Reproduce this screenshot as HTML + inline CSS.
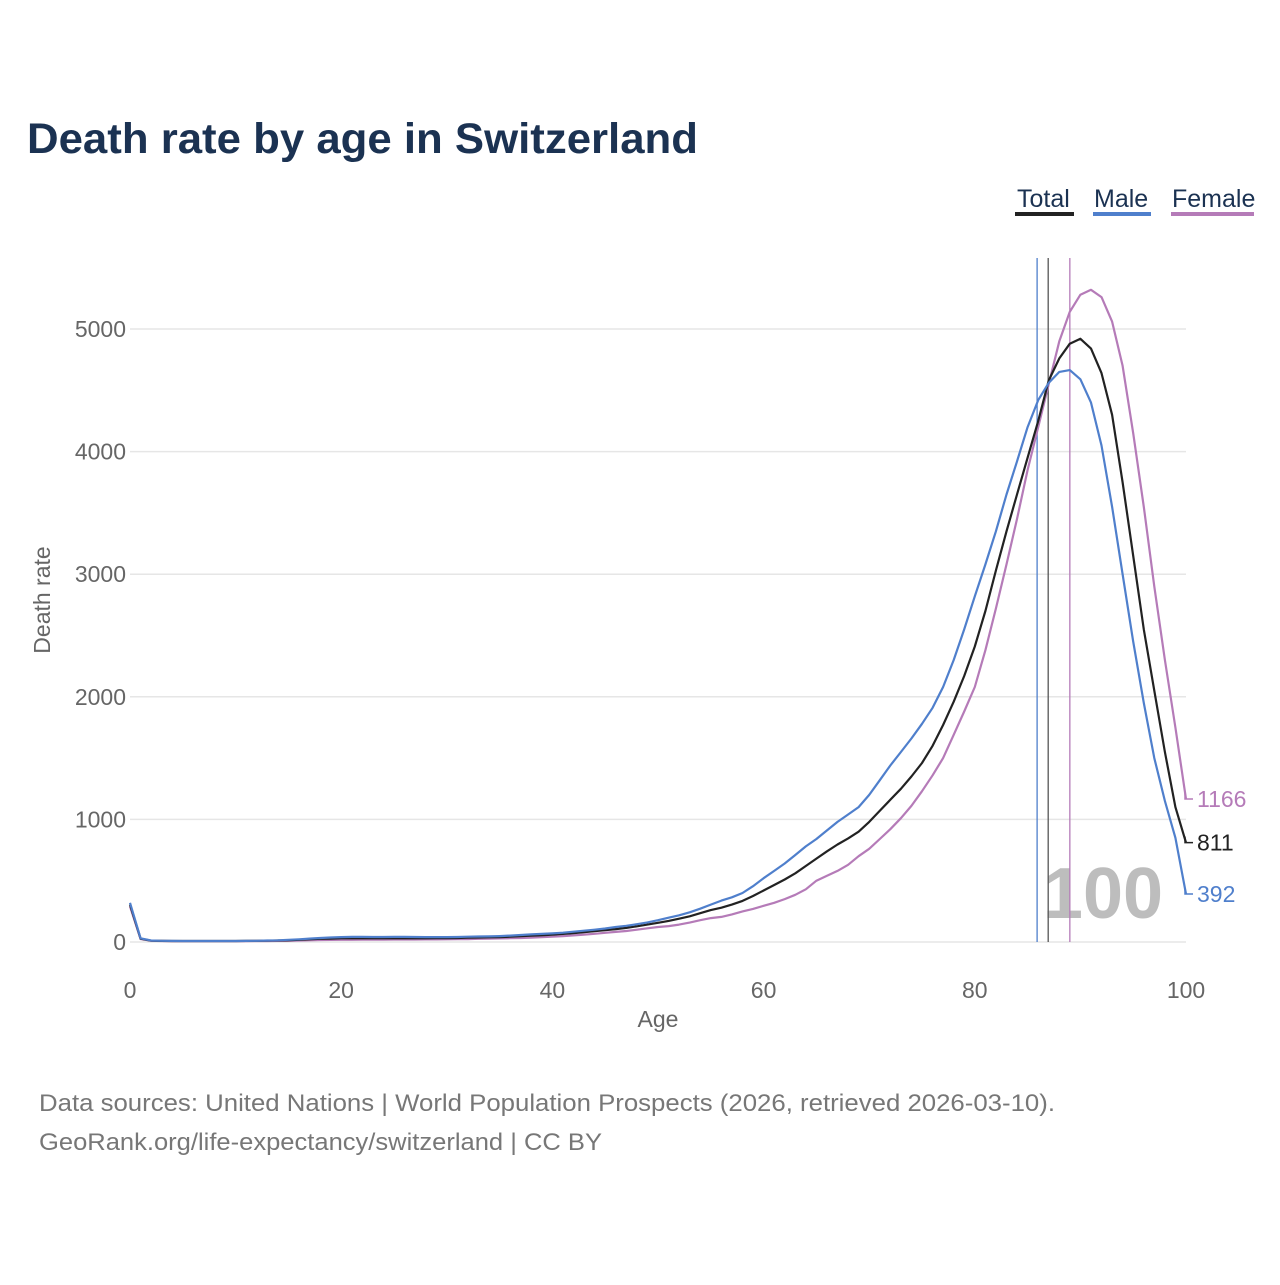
<!DOCTYPE html>
<html><head><meta charset="utf-8"><style>
body{margin:0;background:#fff;font-family:"Liberation Sans",sans-serif;}
</style></head><body>
<svg width="1280" height="1280" xmlns="http://www.w3.org/2000/svg" style="font-family:'Liberation Sans',sans-serif">
<text x="27" y="153" font-size="43" font-weight="bold" fill="#1b3252" textLength="671" lengthAdjust="spacingAndGlyphs">Death rate by age in Switzerland</text>
<g>
<g><text x="1017" y="207" font-size="25" fill="#1b3252">Total</text><rect x="1015" y="212" width="59" height="4" fill="#222"/></g>
<g><text x="1094" y="207" font-size="25" fill="#1b3252">Male</text><rect x="1093" y="212" width="58" height="4" fill="#4f7fcc"/></g>
<g><text x="1172" y="207" font-size="25" fill="#1b3252">Female</text><rect x="1171" y="212" width="83" height="4" fill="#b57bb8"/></g>
</g>
<g id="grid"></g>
<g id="yticks"></g>
<g id="xticks"></g>
<text x="1103" y="918" font-size="72" font-weight="bold" fill="#bdbdbd" text-anchor="middle">100</text>
<g id="vlines"></g>
<g id="series"></g>
<text x="658" y="1027" font-size="23" fill="#666" text-anchor="middle">Age</text>
<text transform="translate(50,600) rotate(-90)" font-size="23" fill="#666" text-anchor="middle">Death rate</text>
<text x="39" y="1111" font-size="24" fill="#777" textLength="1016" lengthAdjust="spacingAndGlyphs">Data sources: United Nations | World Population Prospects (2026, retrieved 2026-03-10).</text>
<text x="39" y="1150" font-size="24" fill="#777" textLength="563" lengthAdjust="spacingAndGlyphs">GeoRank.org/life-expectancy/switzerland | CC BY</text>
</svg>
<script>
const yTicks=[0,1000,2000,3000,4000,5000];
const xTicks=[0,20,40,60,80,100];
const male=[320,30,12,10,9,8,8,8,8,8,8,9,10,12,14,18,22,28,33,37,40,42,42,41,41,42,42,41,40,40,40,41,43,45,46,48,52,57,62,66,70,76,84,92,100,110,122,132,145,160,178,198,218,242,272,305,338,365,400,455,520,580,640,710,780,840,910,980,1040,1100,1200,1320,1440,1550,1660,1780,1910,2080,2300,2550,2820,3080,3350,3650,3920,4200,4420,4560,4650,4665,4590,4400,4050,3550,3000,2450,1950,1500,1150,850,392];
const total=[305,27,11,9,8,8,8,8,8,8,8,9,10,11,12,14,18,22,26,28,30,30,30,30,30,30,30,30,30,31,32,33,35,37,38,40,43,47,51,55,60,66,72,80,88,96,105,115,128,142,157,172,190,210,235,260,280,305,335,375,420,465,510,560,620,680,740,795,845,900,980,1070,1160,1250,1350,1460,1600,1770,1960,2170,2410,2700,3030,3350,3650,3950,4250,4580,4760,4880,4920,4840,4640,4300,3750,3150,2550,2050,1550,1100,811];
const female=[290,24,10,8,7,7,7,7,7,7,7,7,8,8,9,10,12,14,16,17,18,18,19,19,19,20,20,20,21,21,22,23,24,26,27,29,31,33,36,39,43,48,54,60,67,75,82,90,100,112,122,130,142,158,178,195,205,225,250,270,295,320,350,385,430,500,540,580,630,700,760,840,920,1010,1110,1230,1360,1500,1690,1880,2080,2380,2720,3080,3450,3850,4200,4550,4900,5140,5280,5320,5260,5060,4700,4150,3550,2900,2300,1750,1166];
const lifeExp=[85.9,86.95,89.0];
const NS='http://www.w3.org/2000/svg';
const X=v=>130+v*10.56, Y=v=>942-v*0.1226;
function mk(t,a,p){const e=document.createElementNS(NS,t);for(const k in a)e.setAttribute(k,a[k]);p.appendChild(e);return e;}
const grid=document.getElementById('grid'),yt=document.getElementById('yticks'),xt=document.getElementById('xticks');
yTicks.forEach(v=>{
 const l=mk('line',{x1:130,x2:1186,y1:Y(v),y2:Y(v),stroke:'#e6e6e6','stroke-width':1.5},grid);
 
 
 const t=mk('text',{x:126,y:Y(v)+8,'font-size':23,fill:'#666','text-anchor':'end'},yt);t.textContent=v;
 
 
});
xTicks.forEach(v=>{
 const t=mk('text',{x:X(v),y:998,'font-size':23,fill:'#666','text-anchor':'middle'},xt);t.textContent=v;
 
 
});
const vl=document.getElementById('vlines');
const vcol=['#4f7fcc','#555','#b57bb8'];
lifeExp.forEach((v,i)=>{
 const l=mk('line',{x1:X(v),x2:X(v),y1:258,y2:942,stroke:vcol[i],'stroke-width':1.3},vl);
 
 
});
const sg=document.getElementById('series');
[[female,'#b57bb8','female'],[total,'#222','total'],[male,'#4f7fcc','male']].forEach(([d,c,n])=>{
 const p=mk('path',{d:d.map((v,i)=>(i?'L':'M')+X(i).toFixed(1)+','+Y(v).toFixed(1)).join(''),fill:'none',stroke:c,'stroke-width':2.2,'stroke-linejoin':'round'},sg);
 
 
});
[[female,'#b57bb8','female'],[total,'#222','total'],[male,'#4f7fcc','male']].forEach(([d,c,n])=>{
 const v=d[100],y=Y(v);
 mk('path',{d:`M${X(100)-1},${y-6}V${y}H${X(100)+7}`,fill:'none',stroke:c,'stroke-width':1.5},sg);
 const t=mk('text',{x:1197,y:y+8,'font-size':23,fill:c},sg);t.textContent=v;
 
 
});
</script>
</body></html>
